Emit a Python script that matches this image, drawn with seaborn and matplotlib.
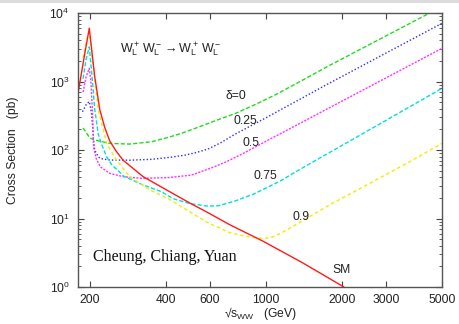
import matplotlib
matplotlib.use("Agg")
import matplotlib.pyplot as plt
import matplotlib.ticker as mticker
from matplotlib.patches import Rectangle
import numpy as np
import pandas as pd
import seaborn as sns

sns.set_style("white")
plt.rcParams['font.family'] = ['Liberation Sans', 'DejaVu Sans']
plt.rcParams['mathtext.fontset'] = 'custom'
plt.rcParams['mathtext.rm'] = 'Liberation Sans'
plt.rcParams['mathtext.it'] = 'Liberation Sans:italic'
plt.rcParams['mathtext.sf'] = 'Liberation Sans'

# sqrt(s_WW) in GeV vs cross section in pb
sm_x = [180, 190, 199, 209, 219, 229, 240, 255, 271, 325, 415, 499, 588, 719, 970, 1400, 2040]
sm_y = [710, 2300, 6000, 1200, 390, 215, 135, 95, 71, 41, 24.6, 16.8, 12.2, 8.1, 4.7, 2.25, 1.0]

d0_x = [188, 200, 209, 240, 288, 352, 415, 455, 520, 588, 660, 754, 900, 1100, 1400, 1790, 3000, 4470, 5000]
d0_y = [210, 150, 140, 125, 122, 132, 155, 172, 205, 243, 285, 340, 455, 650, 1050, 1720, 4640, 10000, 12300]

d25_x = [187, 194, 199, 202.6, 204.4, 207, 209, 216, 220, 240, 288, 350, 415, 476, 530, 588, 660, 754,
         1000, 1300, 1790, 5000]
d25_y = [362, 470, 510, 362, 260, 140, 100, 80, 75, 71.4, 71, 73, 78, 84, 92, 103, 127, 170,
         295, 500, 950, 7070]

d50_x = [188, 193, 199, 202, 205, 207, 212, 220, 240, 271, 321, 409, 506, 626, 700, 800, 1000, 1300, 1790, 5000]
d50_y = [700, 1150, 1560, 1000, 350, 110, 75, 57, 45.6, 40.8, 38.6, 39.5, 43, 57, 68, 86.5, 134, 223, 415, 3050]

d75_x = [188, 193, 199, 205, 209, 216, 223, 233, 245, 259, 271, 321, 385, 428, 499, 582, 647, 754, 900,
         1136, 1300, 1538, 1790, 2500, 5000]
d75_y = [1100, 2050, 3200, 1000, 400, 170, 120, 80, 60, 50, 42, 31.5, 24.6, 19.5, 16.5, 15.2, 15.3, 18, 23,
         35, 47, 67, 92, 185, 795]

d90_x = [188, 194, 199, 209, 216, 233, 255, 288, 346, 415, 499, 588, 719, 850, 970, 1050, 1136, 1250, 1400,
         1800, 2437, 3000, 3827, 5000]
d90_y = [2200, 4000, 5300, 1100, 383, 125, 71.4, 40.8, 26.1, 19, 12.5, 8.7, 6.2, 5.4, 5.1, 5.3, 6.0, 7.3, 9.3,
         16, 29, 43.9, 71.4, 125]

x_ticks = [200, 400, 600, 1000, 2000, 3000, 5000]
y_ticks = [1, 10, 100, 1000, 10000]

curves = [
    ("0", d0_x, d0_y, "#1fdc1f", (0, (3, 1.5))),
    ("0.25", d25_x, d25_y, "#2a2aff", (0, (1, 1.5))),
    ("0.5", d50_x, d50_y, "#ff33ff", (0, (1.5, 1))),
    ("0.75", d75_x, d75_y, "#00dede", (0, (3, 1.5))),
    ("0.9", d90_x, d90_y, "#eeee00", (0, (2.5, 2))),
]

fig = plt.figure(figsize=(4.59, 3.24), dpi=100)
ax = fig.add_axes([78 / 459, 1 - 287 / 324, 364 / 459, 274 / 324])
ax.set_xscale('log')
ax.set_yscale('log')

for name, xs, ys, col, ls in curves:
    df = pd.DataFrame({'x': xs, 'y': ys})
    sns.lineplot(data=df, x='x', y='y', ax=ax, color=col, linestyle=ls, linewidth=1.0)
sm = pd.DataFrame({'x': sm_x, 'y': sm_y})
sns.lineplot(data=sm, x='x', y='y', ax=ax, color='#ff1a1a', linewidth=1.0)

ax.set_xlim(179.5, 5000)
ax.set_ylim(1, 1e4)

ax.xaxis.set_major_locator(mticker.FixedLocator(x_ticks))
ax.xaxis.set_major_formatter(mticker.FixedFormatter([str(t) for t in x_ticks]))
ax.xaxis.set_minor_locator(mticker.NullLocator())
ax.yaxis.set_major_locator(mticker.FixedLocator(y_ticks))
ax.yaxis.set_major_formatter(mticker.LogFormatterSciNotation())
ax.yaxis.set_minor_locator(mticker.LogLocator(base=10, subs=np.arange(2, 10), numticks=20))
ax.yaxis.set_minor_formatter(mticker.NullFormatter())
ax.tick_params(which='both', direction='in', bottom=True, left=True, top=True, right=True, color='#444444')
ax.tick_params(which='major', length=4, width=0.8, labelsize=8.7, labelcolor='#222222')
ax.tick_params(axis='x', which='major', pad=5)
ax.tick_params(axis='y', which='major', pad=6)
ax.tick_params(which='minor', length=2.5, width=0.6)
for s in ax.spines.values():
    s.set_color('#555555')
    s.set_linewidth(1.0)

ax.set_xlabel('')
ax.set_ylabel('')
fig.text(260 / 459, 1 - 313 / 324, '√s$_{\\mathsf{WW}}$   (GeV)', ha='center', va='center',
         fontsize=8.7, color='#222222')
fig.text(13 / 459, 1 - 150 / 324, 'Cross Section   (pb)', ha='center', va='center',
         rotation=90, fontsize=8.7, color='#222222')

ax.text(0.115, 0.865, '$\\mathsf{W_L^+\\,W_L^-\\rightarrow W_L^+\\,W_L^-}$', transform=ax.transAxes,
        ha='left', va='center', fontsize=9, color='#222222')
labels = [("δ=0", 0.434, 0.697), ("0.25", 0.459, 0.606), ("0.5", 0.475, 0.526),
          ("0.75", 0.514, 0.405), ("0.9", 0.613, 0.255), ("SM", 0.723, 0.062)]
for txt, lx, ly in labels:
    ax.text(lx, ly, txt, transform=ax.transAxes, ha='center', va='center', fontsize=8.7, color='#222222')
ax.text(0.041, 0.109, 'Cheung, Chiang, Yuan', transform=ax.transAxes, ha='left', va='center',
        fontsize=11.5, family='Liberation Serif', color='#111111')

fig.patches.append(Rectangle((0, 1 - 3 / 324), 1, 3 / 324, transform=fig.transFigure,
                             facecolor='#dcdcdc', edgecolor='none'))

fig.savefig('out.png', dpi=100)
